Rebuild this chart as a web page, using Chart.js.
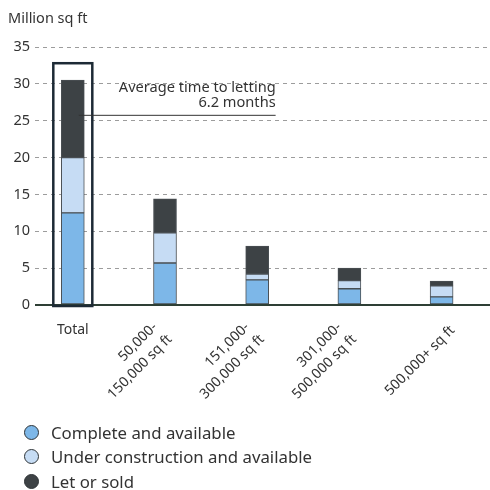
<!DOCTYPE html>
<html>
<head>
<meta charset="utf-8">
<script src="https://cdn.jsdelivr.net/npm/chart.js@4/dist/chart.umd.min.js"></script>
<style>
  html, body { margin: 0; padding: 0; background: #fff; }
  #wrap { position: relative; width: 490px; height: 490px; font-family: "Noto Sans", sans-serif; color: #333; }
  #c { position: absolute; left: 0; top: 0; }
  #legend { position: absolute; left: 24px; top: 420px; margin: 0; padding: 0; list-style: none; }
  #legend li { display: flex; align-items: center; height: 24.5px; font-size: 16.8px; color: #333; }
  #legend .dot { width: 15px; height: 15px; border-radius: 50%; border: 1.3px solid #2f3437; box-sizing: border-box; margin-right: 12px; }
</style>
</head>
<body>
<div id="wrap">
  <canvas id="c" width="490" height="490"></canvas>
  <ul id="legend"></ul>
</div>
<script>
// ---- data ----
const categories = [["Total"], ["50,000-", "150,000 sq ft"], ["151,000-", "300,000 sq ft"], ["301,000-", "500,000 sq ft"], ["500,000+ sq ft"]];
const completeAvailable = [12.5, 5.7, 3.4, 2.2, 1.1];
const underConstruction = [7.5, 4.1, 0.8, 1.1, 1.5];
const letOrSold = [10.5, 4.6, 3.8, 1.7, 0.65];
const seriesNames = ["Complete and available", "Under construction and available", "Let or sold"];
const yTicks = [0, 5, 10, 15, 20, 25, 30, 35];
const axisTitle = "Million sq ft";
const annotationLines = ["Average time to letting", "6.2 months"];

const colors = ["#7db7e8", "#c6dcf4", "#3d4245"];
const FONT = '"Noto Sans", sans-serif';

function pts(arr) { return arr.map((v, i) => ({ x: i, y: v })); }

const datasets = [completeAvailable, underConstruction, letOrSold].map((arr, k) => ({
  label: seriesNames[k],
  data: pts(arr),
  backgroundColor: colors[k],
  borderColor: "#4a4f53",
  borderWidth: 1,
  borderSkipped: false,
  barThickness: 23
}));

const decorPlugin = {
  id: "decor",
  afterDraw(chart) {
    const { ctx } = chart;
    const xs = chart.scales.x, ys = chart.scales.y;
    ctx.save();
    // axis title
    ctx.fillStyle = "#333";
    ctx.font = "14.5px " + FONT;
    ctx.textAlign = "left";
    ctx.textBaseline = "middle";
    ctx.fillText(axisTitle, 8, 19);

    // highlight box around Total
    const cx0 = xs.getPixelForValue(0);
    ctx.strokeStyle = "#1d2a35";
    ctx.lineWidth = 2.5;
    ctx.strokeRect(cx0 - 19.5, ys.getPixelForValue(32.8), 39, ys.getPixelForValue(0) - ys.getPixelForValue(32.8) + 1);

    // annotation
    const ax = xs.getPixelForValue(2.2);
    const ay = ys.getPixelForValue(25.8);
    ctx.strokeStyle = "#333";
    ctx.lineWidth = 1;
    ctx.beginPath();
    ctx.moveTo(cx0 + 6, ay + 0.5);
    ctx.lineTo(ax, ay + 0.5);
    ctx.stroke();
    ctx.font = "14.6px " + FONT;
    ctx.textAlign = "right";
    ctx.fillStyle = "#333";
    ctx.fillText(annotationLines[0], ax, ay - 27);
    ctx.fillText(annotationLines[1], ax, ay - 12);

    // x labels
    ctx.font = "14px " + FONT;
    const y0 = ys.getPixelForValue(0);
    categories.forEach((lines, i) => {
      const px = xs.getPixelForValue(i);
      if (i === 0) {
        ctx.textAlign = "center";
        ctx.fillText(lines[0], px, y0 + 25);
        return;
      }
      ctx.save();
      if (lines.length === 1) ctx.translate(px + 11, y0 + 23);
      else ctx.translate(px - 10, y0 + 20);
      ctx.rotate(-Math.PI / 4);
      ctx.textAlign = "right";
      lines.forEach((t, j) => ctx.fillText(t, j * 2, j * 19));
      ctx.restore();
    });
    ctx.restore();
  }
};

const chart = new Chart(document.getElementById("c"), {
  type: "bar",
  data: { datasets },
  options: {
    responsive: false,
    animation: false,
    layout: { padding: { left: 0, right: 0, top: 47, bottom: 185 } },
    plugins: { legend: { display: false }, tooltip: { enabled: false } },
    scales: {
      x: {
        type: "linear",
        stacked: true,
        offset: false,
        min: -0.41,
        max: 4.525,
        display: false
      },
      y: {
        stacked: true,
        min: 0,
        max: 35,
        afterFit(s) { s.width = 35; },
        afterBuildTicks(s) { s.ticks = yTicks.map(v => ({ value: v })); },
        ticks: { font: { family: FONT, size: 14.5 }, color: "#333", padding: 5 },
        grid: {
          drawTicks: false,
          color: c => (c.tick && c.tick.value === 0) ? "#2e3f35" : "#9c9c9c",
          lineWidth: c => (c.tick && c.tick.value === 0) ? 2 : 1
        },
        border: {
          display: false,
          dash: c => (c.tick && c.tick.value === 0) ? [] : [4, 4]
        }
      }
    }
  },
  plugins: [decorPlugin]
});

// HTML legend built from datasets
const lg = document.getElementById("legend");
chart.data.datasets.forEach(ds => {
  const li = document.createElement("li");
  const dot = document.createElement("span");
  dot.className = "dot";
  dot.style.background = ds.backgroundColor;
  li.appendChild(dot);
  li.appendChild(document.createTextNode(ds.label));
  lg.appendChild(li);
});
</script>
</body>
</html>
